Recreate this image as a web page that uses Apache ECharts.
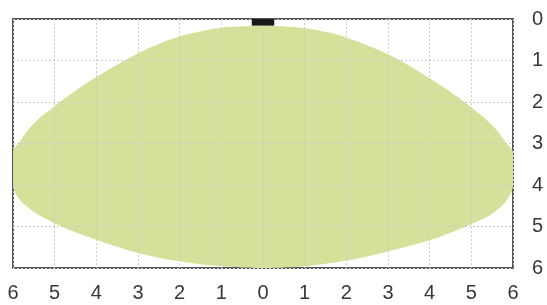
<!DOCTYPE html>
<html>
<head>
<meta charset="utf-8">
<script src="https://cdn.jsdelivr.net/npm/echarts@6/dist/echarts.min.js"></script>
<style>
  html, body { margin: 0; padding: 0; background: #fff; }
  #chart { width: 547px; height: 305px; }
</style>
</head>
<body>
<div id="chart"></div>
<script>
// outline of the coverage area, clockwise from the top centre (x: metres left/right, y: metres down)
var outlineX = [0, 0.5, 1, 1.5, 2, 2.5, 3, 3.5, 4, 4.5, 5, 5.5, 5.85, 6.0, 6.06, 6.0,
  5.85, 5.65, 5.45, 5.2, 4.97, 4.5, 4, 3.5, 3, 2.5, 2, 1.5, 1, 0.5, 0,
  -0.5, -1, -1.5, -2, -2.5, -3, -3.5, -4, -4.5, -4.97, -5.2, -5.45, -5.65, -5.85, -6.0, -6.06, -6.0,
  -5.87, -5.5, -5, -4.5, -4, -3.5, -3, -2.5, -2, -1.5, -1, -0.5]
var outlineY = [0.17, 0.18, 0.22, 0.31, 0.45, 0.63, 0.85, 1.12, 1.43, 1.76, 2.13, 2.56, 3.0, 3.2, 3.6, 4.04,
  4.36, 4.57, 4.72, 4.85, 4.96, 5.15, 5.33, 5.47, 5.6, 5.72, 5.82, 5.9, 5.96, 5.99, 6.0,
  5.99, 5.96, 5.91, 5.84, 5.75, 5.64, 5.49, 5.32, 5.14, 4.94, 4.82, 4.68, 4.53, 4.34, 4.04, 3.6, 3.18,
  3.0, 2.52, 2.1, 1.73, 1.4, 1.1, 0.83, 0.6, 0.42, 0.3, 0.21, 0.18]
// detector at the top
var sensorX = [-0.27, 0.27]
var sensorY = [0, 0.16]
var xTicks = [-6, -5, -4, -3, -2, -1, 0, 1, 2, 3, 4, 5, 6]
var yTicks = [0, 1, 2, 3, 4, 5, 6]

var labelFont = {
  fontFamily: 'Arial, "Liberation Sans", sans-serif',
  fontSize: 20,
  color: '#383838'
}

var option = {
  animation: false,
  grid: {
    left: 13,
    right: 34,
    top: 19,
    bottom: 37,
    show: true,
    borderColor: '#555',
    borderWidth: 2,
    backgroundColor: 'transparent'
  },
  xAxis: {
    type: 'value',
    min: xTicks[0],
    max: xTicks[xTicks.length - 1],
    interval: 1,
    z: 3,
    axisLine: { show: false },
    axisTick: { show: false },
    axisLabel: Object.assign({
      margin: 15,
      formatter: function (v) { return Math.abs(v) }
    }, labelFont),
    splitLine: { lineStyle: { color: '#cacaca', type: [2, 2], width: 1 } }
  },
  yAxis: {
    type: 'value',
    position: 'right',
    inverse: true,
    min: yTicks[0],
    max: yTicks[yTicks.length - 1],
    interval: 1,
    z: 3,
    axisLine: { show: false },
    axisTick: { show: false },
    axisLabel: Object.assign({ margin: 19, align: 'left' }, labelFont),
    splitLine: { lineStyle: { color: '#cacaca', type: [2, 2], width: 1 } }
  },
  series: [
    {
      type: 'custom',
      clip: true,
      z: 1,
      data: [0],
      renderItem: function (params, api) {
        var pts = outlineX.map(function (x, i) { return api.coord([x, outlineY[i]]) })
        return {
          type: 'polygon',
          shape: { points: pts, smooth: 0.5 },
          style: { fill: '#d5e19b', stroke: null }
        }
      }
    },
    {
      type: 'custom',
      z: 5,
      data: [0],
      renderItem: function (params, api) {
        var p1 = api.coord([sensorX[0], sensorY[0]])
        var p2 = api.coord([sensorX[1], sensorY[1]])
        return {
          type: 'rect',
          shape: { x: p1[0], y: p1[1], width: p2[0] - p1[0], height: p2[1] - p1[1] },
          style: { fill: '#1c1818' }
        }
      }
    }
  ]
}

var myChart = echarts.init(document.getElementById('chart'))
myChart.setOption(option)
</script>
</body>
</html>
